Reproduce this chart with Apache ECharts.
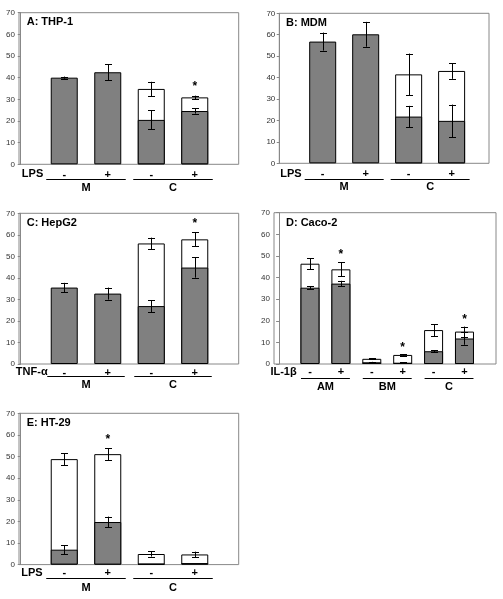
<!DOCTYPE html>
<html><head><meta charset="utf-8">
<script src="https://cdn.jsdelivr.net/npm/echarts@6/dist/echarts.min.js"></script>
<style>html,body{margin:0;padding:0;background:#fff}#c{width:503px;height:599px}</style>
</head><body><div id="c"></div>
<script>
// ---------------- DATA ----------------
const yMin = 0, yMax = 70, yStep = 10;

const aTitle = 'A: THP-1';
const aTreatment = 'LPS';
const aSigns = ['-', '+', '-', '+'];
const aGroups = ['M', 'C'];
const aDark = [40, 42.5, 20.5, 24.6];
const aDarkErr = [0.5, 3.7, 4.4, 1.2];
const aTotal = [null, null, 34.8, 30.9];
const aTotalErr = [null, null, 3.3, 0.8];
const aStars = [null, null, null, 36.6];

const bTitle = 'B: MDM';
const bTreatment = 'LPS';
const bSigns = ['-', '+', '-', '+'];
const bGroups = ['M', 'C'];
const bDark = [56.8, 60.2, 21.8, 19.8];
const bDarkErr = [4.2, 5.8, 5.0, 7.6];
const bTotal = [null, null, 41.5, 43.1];
const bTotalErr = [null, null, 9.7, 3.7];
const bStars = [null, null, null, null];

const cTitle = 'C: HepG2';
const cTreatment = 'TNF-α';
const cSigns = ['-', '+', '-', '+'];
const cGroups = ['M', 'C'];
const cDark = [35.5, 32.7, 26.9, 44.8];
const cDarkErr = [2.2, 2.8, 2.8, 4.7];
const cTotal = [null, null, 56.0, 57.9];
const cTotalErr = [null, null, 2.7, 3.3];
const cStars = [null, null, null, 66.1];

const dTitle = 'D: Caco-2';
const dTreatment = 'IL-1β';
const dSigns = ['-', '+', '-', '+', '-', '+'];
const dGroups = ['AM', 'BM', 'C'];
const dDark = [35.3, 37.2, 0.8, 0.6, 5.9, 11.8];
const dDarkErr = [0.7, 1.3, 0.2, 0.2, 0.4, 2.9];
const dTotal = [46.4, 43.8, 2.4, 4.2, 15.7, 15.0];
const dTotalErr = [2.6, 3.3, 0.3, 0.3, 2.8, 2.3];
const dStars = [null, 51.4, null, 8.5, null, 21.2];

const eTitle = 'E: HT-29';
const eTreatment = 'LPS';
const eSigns = ['-', '+', '-', '+'];
const eGroups = ['M', 'C'];
const eDark = [6.9, 19.7, 0.3, 0.7];
const eDarkErr = [2.1, 2.5, null, null];
const eTotal = [48.8, 51.1, 4.9, 4.7];
const eTotalErr = [2.8, 2.7, 1.2, 1.3];
const eStars = [null, 58.8, null, null];

// ---------------- LAYOUT ----------------
const FONT = '"Liberation Sans", Arial, Helvetica, sans-serif';
const BOLD11 = 'bold 11px ' + FONT;
const DARK = '#808080';

const panels = [
  {title: aTitle, treat: aTreatment, signs: aSigns, groups: aGroups, dark: aDark, darkErr: aDarkErr, total: aTotal, totalErr: aTotalErr, stars: aStars,
   L: {left: 19, top: 12.7, width: 219.7, height: 151.6, xMin: -0.04, xMax: 5.01, barW: 27, ext: 18, sY: 10.5, lY: 15, gY: 23.7, tGap: 21, tx: 26.7, ty: 22.7}},
  {title: bTitle, treat: bTreatment, signs: bSigns, groups: bGroups, dark: bDark, darkErr: bDarkErr, total: bTotal, totalErr: bTotalErr, stars: bStars,
   L: {left: 279.3, top: 13.3, width: 209.7, height: 150, xMin: -0.01, xMax: 4.87, barW: 27, ext: 18, sY: 10.7, lY: 16, gY: 23.4, tGap: 21, tx: 286, ty: 23.3}},
  {title: cTitle, treat: cTreatment, signs: cSigns, groups: cGroups, dark: cDark, darkErr: cDarkErr, total: cTotal, totalErr: cTotalErr, stars: cStars,
   L: {left: 19, top: 213.3, width: 219.7, height: 150.7, xMin: -0.04, xMax: 5.01, barW: 27, ext: 17, sY: 8.5, lY: 12, gY: 21, tGap: 16.6, tx: 26.7, ty: 223.3}},
  {title: dTitle, treat: dTreatment, signs: dSigns, groups: dGroups, dark: dDark, darkErr: dDarkErr, total: dTotal, totalErr: dTotalErr, stars: dStars,
   L: {left: 274, top: 212.7, width: 222, height: 151.3, xMin: -0.165, xMax: 7.02, barW: 19, ext: 9, sY: 8.3, lY: 14.3, gY: 23.3, tGap: 13.3, tx: 286, ty: 223.3}},
  {title: eTitle, treat: eTreatment, signs: eSigns, groups: eGroups, dark: eDark, darkErr: eDarkErr, total: eTotal, totalErr: eTotalErr, stars: eStars,
   L: {left: 19, top: 413.3, width: 219.7, height: 151.3, xMin: -0.04, xMax: 5.01, barW: 27, ext: 18, sY: 8.8, lY: 13.1, gY: 23.7, tGap: 21.6, tx: 26.7, ty: 423.3}}
];

const chart = echarts.init(document.getElementById('c'), null, {renderer: 'canvas'});

const grid = [], xAxis = [], yAxis = [], series = [], graphic = [];

panels.forEach((p, i) => {
  const L = p.L;
  grid.push({left: L.left, top: L.top, width: L.width, height: L.height, show: true,
    borderColor: '#888', borderWidth: 1, backgroundColor: 'rgba(0,0,0,0)', containLabel: false});
  xAxis.push({gridIndex: i, type: 'value', min: L.xMin, max: L.xMax, show: false});
  yAxis.push({gridIndex: i, type: 'value', min: yMin, max: yMax, interval: yStep,
    axisLine: {show: true, lineStyle: {color: '#888', width: 1}},
    axisTick: {show: true, length: 3, inside: false, lineStyle: {color: '#888'}},
    axisLabel: {show: true, fontSize: 8, color: '#333', margin: 4, fontFamily: FONT},
    splitLine: {show: false}});

  const whiteData = [];
  p.total.forEach((v, j) => { if (v != null) whiteData.push([j + 1, v]); });
  const darkData = p.dark.map((v, j) => [j + 1, v]);

  series.push({type: 'bar', xAxisIndex: i, yAxisIndex: i, data: whiteData, barWidth: L.barW, barGap: '-100%',
    itemStyle: {color: '#fff', borderColor: '#000', borderWidth: 1}, z: 2, animation: false, silent: true});
  series.push({type: 'bar', xAxisIndex: i, yAxisIndex: i, data: darkData, barWidth: L.barW, barGap: '-100%',
    itemStyle: {color: DARK, borderColor: '#000', borderWidth: 1}, z: 3, animation: false, silent: true});

  // error bars
  const errData = [];
  p.total.forEach((v, j) => { if (v != null && p.totalErr[j] != null) errData.push([j + 1, v, p.totalErr[j]]); });
  p.dark.forEach((v, j) => { if (v != null && p.darkErr[j] != null) errData.push([j + 1, v, p.darkErr[j]]); });
  series.push({type: 'custom', xAxisIndex: i, yAxisIndex: i, data: errData, z: 5, animation: false, silent: true,
    encode: {x: 0, y: 1},
    renderItem: function (params, api) {
      const x = api.value(0), m = api.value(1), e = api.value(2);
      const hi = api.coord([x, m + e]), lo = api.coord([x, m - e]);
      const cx = Math.round(hi[0]) + 0.5, cap = 3.5;
      const st = {stroke: '#000', lineWidth: 1};
      return {type: 'group', children: [
        {type: 'line', shape: {x1: cx, y1: hi[1], x2: cx, y2: lo[1]}, style: st},
        {type: 'line', shape: {x1: cx - cap, y1: Math.round(hi[1]) + 0.5, x2: cx + cap, y2: Math.round(hi[1]) + 0.5}, style: st},
        {type: 'line', shape: {x1: cx - cap, y1: Math.round(lo[1]) + 0.5, x2: cx + cap, y2: Math.round(lo[1]) + 0.5}, style: st}
      ]};
    }});

  // stars
  const starData = [];
  p.stars.forEach((v, j) => { if (v != null) starData.push([j + 1, v]); });
  series.push({type: 'custom', xAxisIndex: i, yAxisIndex: i, data: starData, z: 5, animation: false, silent: true,
    encode: {x: 0, y: 1},
    renderItem: function (params, api) {
      const c = api.coord([api.value(0), api.value(1)]);
      return {type: 'text', style: {text: '*', x: c[0], y: c[1] + 2, font: 'bold 12px ' + FONT, fill: '#000', align: 'center', verticalAlign: 'middle'}};
    }});

  // treatment signs under bars
  const signData = p.signs.map((s, j) => [j + 1, 0]);
  series.push({type: 'custom', xAxisIndex: i, yAxisIndex: i, data: signData, z: 5, animation: false, silent: true, clip: false,
    encode: {x: 0, y: 1},
    renderItem: function (params, api) {
      const c = api.coord([api.value(0), 0]);
      const kids = [{type: 'text', style: {text: p.signs[params.dataIndex], x: c[0], y: c[1] + L.sY, font: BOLD11, fill: '#000', align: 'center', verticalAlign: 'middle'}}];
      if (params.dataIndex === 0) {
        kids.push({type: 'text', style: {text: p.treat, x: c[0] - L.tGap, y: c[1] + L.sY - 0.5, font: BOLD11, fill: '#000', align: 'right', verticalAlign: 'middle'}});
      }
      return {type: 'group', children: kids};
    }});

  // group lines and labels
  const size = p.signs.length / p.groups.length;
  const grpData = p.groups.map((g, k) => [k * size + 1, k * size + size, 0]);
  series.push({type: 'custom', xAxisIndex: i, yAxisIndex: i, data: grpData, z: 5, animation: false, silent: true, clip: false,
    encode: {x: 0, y: 2},
    renderItem: function (params, api) {
      const a = api.coord([api.value(0), 0]), b = api.coord([api.value(1), 0]);
      const ly = Math.round(a[1] + L.lY) + 0.5;
      return {type: 'group', children: [
        {type: 'line', shape: {x1: a[0] - L.ext, y1: ly, x2: b[0] + L.ext, y2: ly}, style: {stroke: '#000', lineWidth: 1}},
        {type: 'text', style: {text: p.groups[params.dataIndex], x: (a[0] + b[0]) / 2, y: a[1] + L.gY, font: BOLD11, fill: '#000', align: 'center', verticalAlign: 'middle'}}
      ]};
    }});

  graphic.push({type: 'text', left: L.tx, top: L.ty - 6, silent: true,
    style: {text: p.title, font: BOLD11, fill: '#000'}});
});

chart.setOption({
  animation: false,
  backgroundColor: '#fff',
  grid: grid, xAxis: xAxis, yAxis: yAxis, series: series, graphic: graphic
});
</script>
</body></html>
